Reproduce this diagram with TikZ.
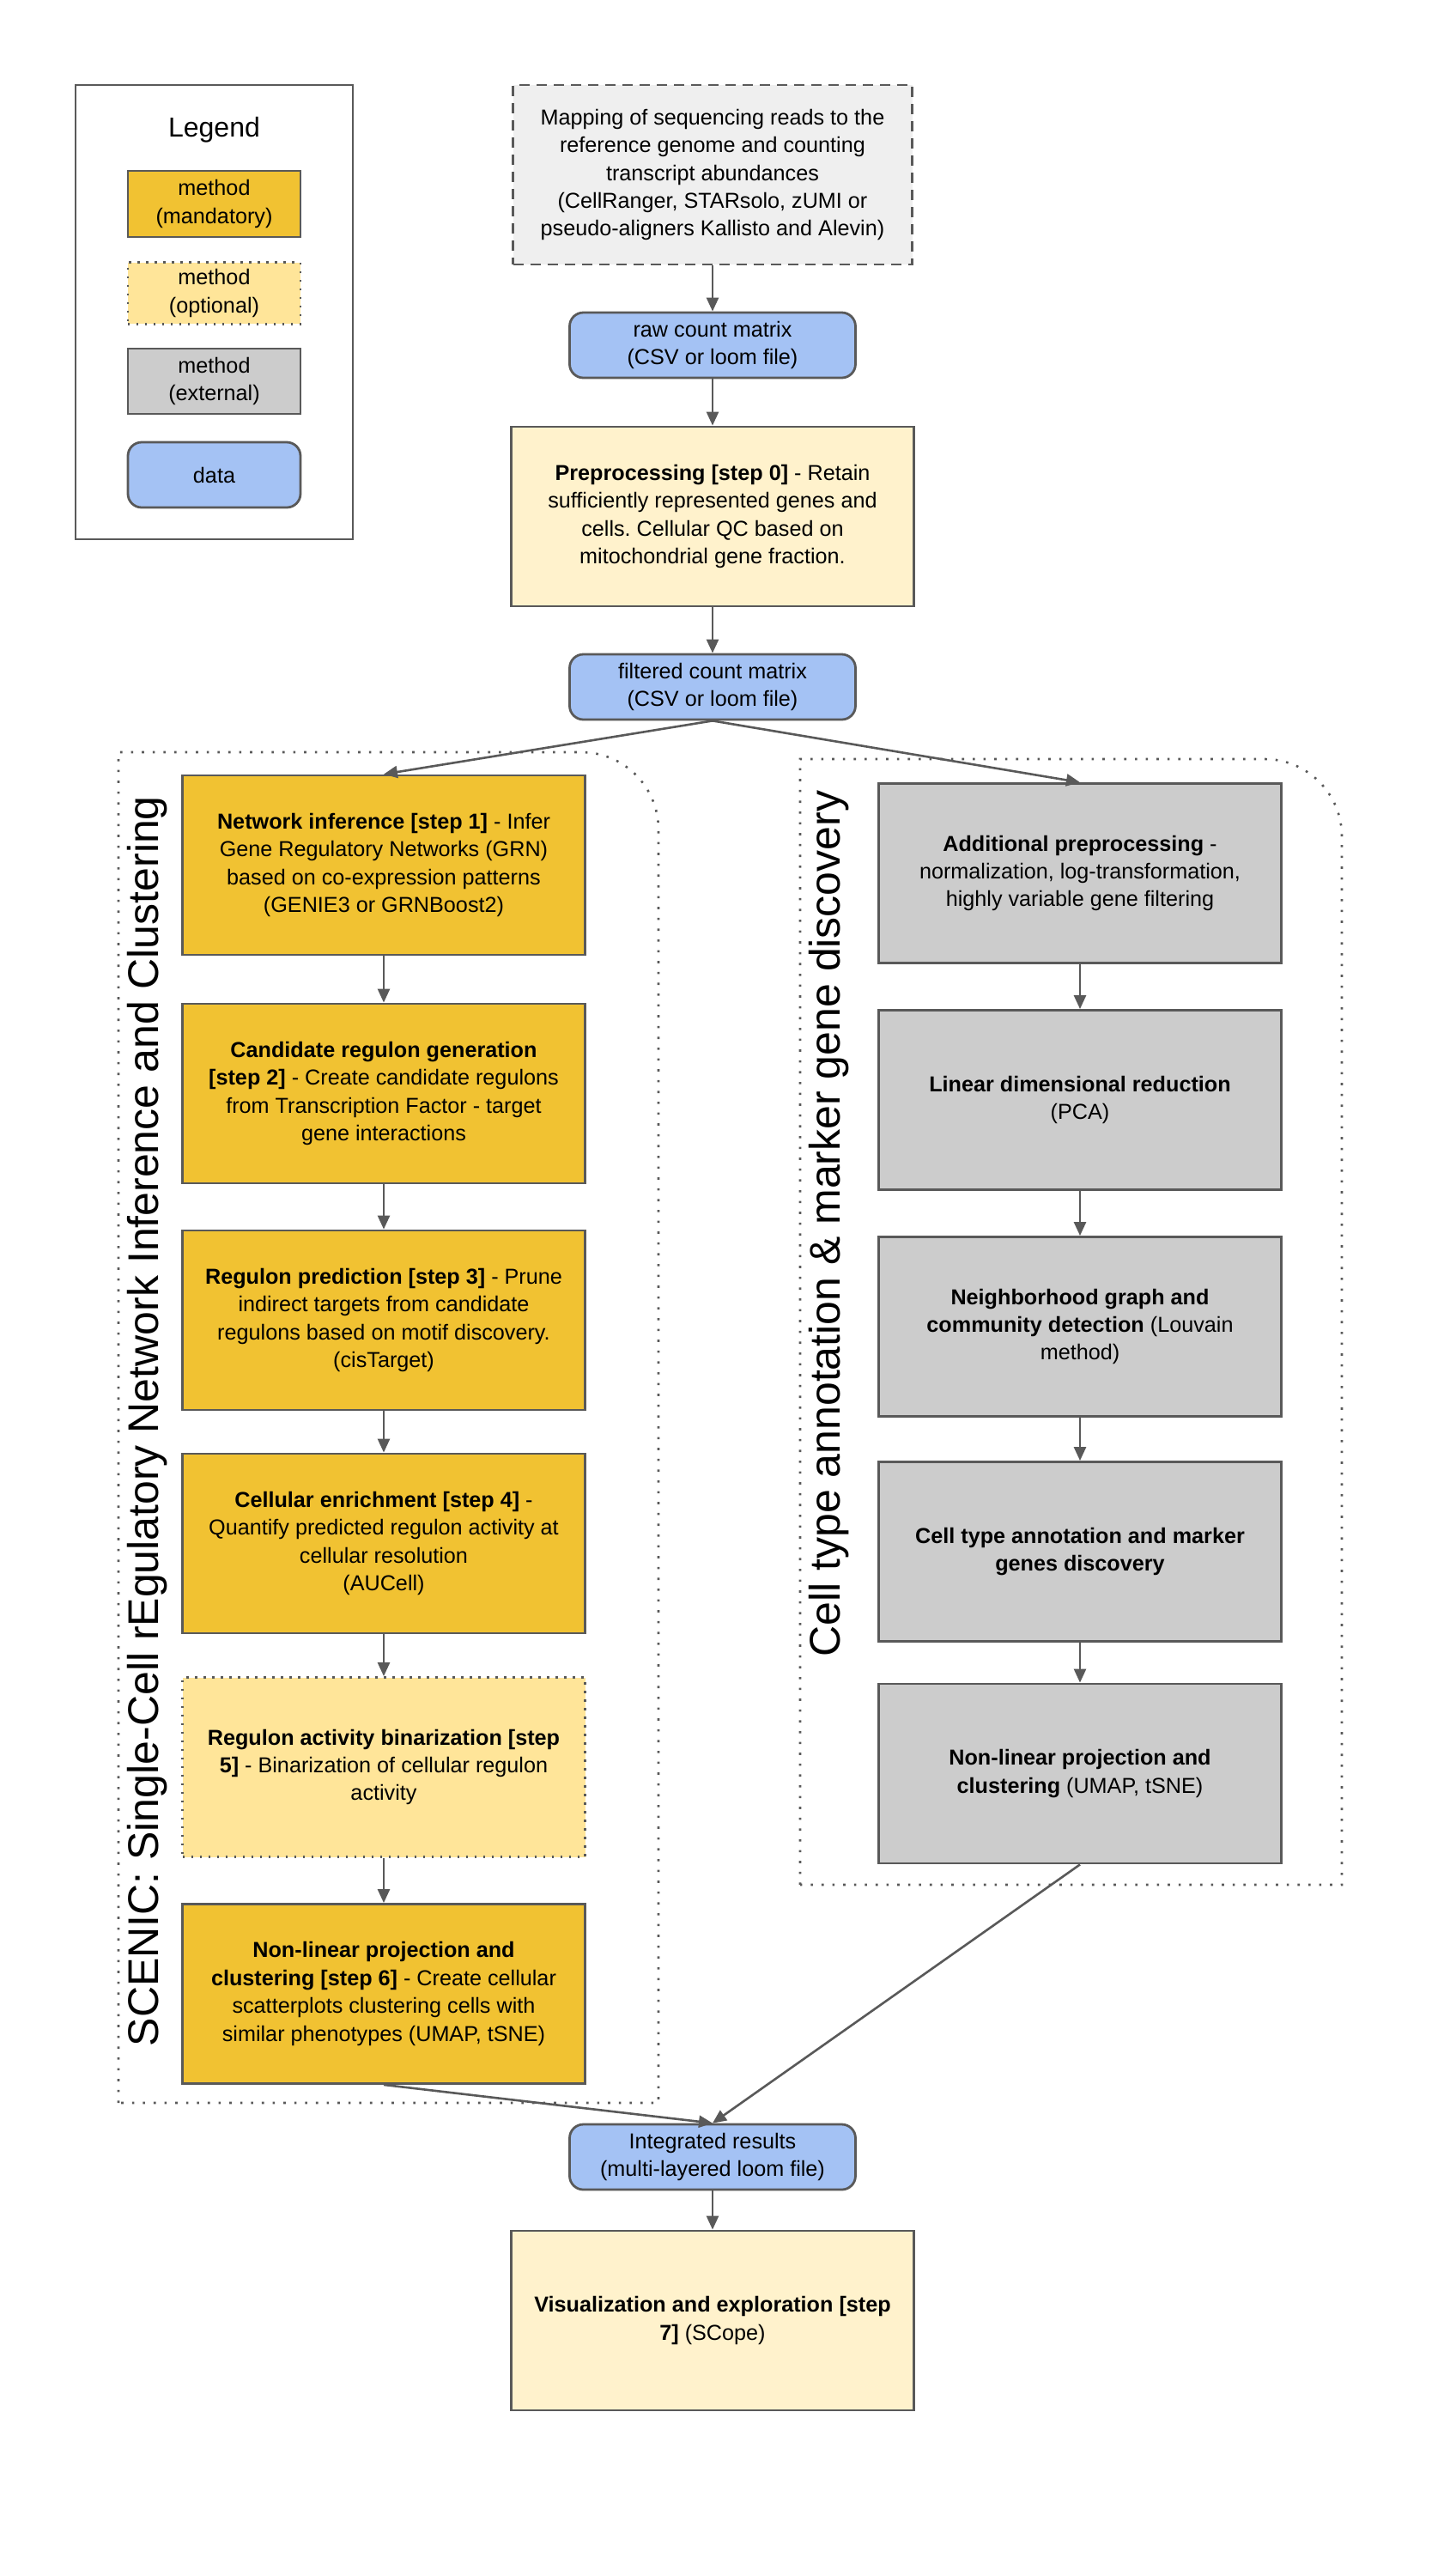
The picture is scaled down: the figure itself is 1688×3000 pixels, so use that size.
\documentclass[tikz,border=0pt]{standalone}
\usepackage{fontspec}
\setmainfont{Liberation Sans}
\usepackage{tikz}
\usetikzlibrary{arrows.meta}
\usetikzlibrary{positioning}
\definecolor{edgegray}{HTML}{595959}
\definecolor{mandfill}{HTML}{F1C232}
\definecolor{optfill}{HTML}{FFE599}
\definecolor{extfill}{HTML}{CCCCCC}
\definecolor{datfill}{HTML}{A4C2F4}
\definecolor{prepfill}{HTML}{FFF2CC}
\definecolor{mapfill}{HTML}{EFEFEF}
\frenchspacing
\newcommand{\bodyfont}{\fontsize{12.6}{16.2}\selectfont}
\tikzset{box/.style={draw=edgegray, line width=1.4pt, align=center, font=\bodyfont, inner sep=4pt}}

\begin{document}
\begin{tikzpicture}[x=0.5pt,y=-0.5pt]
\tikzstyle{mand} = [box, fill=mandfill, minimum width=234.5pt, minimum height=104.5pt]
\tikzstyle{optl} = [box, fill=optfill, dash pattern=on 1.2pt off 3.8pt, minimum width=234.5pt, minimum height=104.5pt]
\tikzstyle{extl} = [box, fill=extfill, minimum width=234.5pt, minimum height=104.5pt]
\tikzstyle{prep} = [box, fill=prepfill, minimum width=234.5pt, minimum height=104.5pt]
\tikzstyle{datnode} = [box, fill=datfill, rounded corners=8pt, minimum width=166.5pt, minimum height=38pt]
\tikzstyle{flow} = [draw=edgegray, line width=1.3pt, -{Triangle[length=8pt,width=7pt]}]
\tikzstyle{grp} = [draw=edgegray, line width=1.3pt, dash pattern=on 1.3pt off 5pt]
\useasboundingbox (0,0) rectangle (1688,3000);

% legend
\node[draw=edgegray, line width=1.3pt, minimum width=161.5pt, minimum height=264.5pt](legend) at (249.5, 363.5){};
\node[font=\fontsize{16}{19}\selectfont](legtitle) at (249.5, 151){Legend};
\node[mand, minimum width=100.5pt, minimum height=38.5pt](legmand) at (249.5, 237.5){method\\(mandatory)};
\node[optl, minimum width=100.5pt, minimum height=33pt](legopt) at (249.5, 341.5){method\\(optional)};
\node[extl, minimum width=100.5pt, minimum height=38pt](legext) at (249.5, 444){method\\(external)};
\node[datnode, minimum width=100.5pt, minimum height=38pt](legdat) at (249.5, 553){data};

% groups
\draw[grp] (138,2449) -- (138,876) -- (677,876) arc[start angle=-90, end angle=0, radius=90] -- (767,2449) -- cycle;
\draw[grp] (932,2195) -- (932,884) -- (1473,884) arc[start angle=-90, end angle=0, radius=90] -- (1563,2195) -- cycle;
\node[rotate=90, font=\fontsize{25}{30}\selectfont](scenic) at (172, 1655){SCENIC: Single-Cell rEgulatory Network Inference and Clustering};
\node[rotate=90, font=\fontsize{25}{30}\selectfont](celltype) at (966, 1425){Cell type annotation \& marker gene discovery};

% main column
\node[box, fill=mapfill, dash pattern=on 6pt off 4pt, minimum width=232.5pt, minimum height=104.5pt](mapping) at (830, 203.5){Mapping of sequencing reads to the\\reference genome and counting\\transcript abundances\\(CellRanger, STARsolo, zUMI or\\pseudo-aligners Kallisto and Alevin)};
\node[datnode](raw) at (830, 402){raw count matrix\\(CSV or loom file)};
\node[prep](prep) at (830, 601.5){\textbf{Preprocessing [step 0]} - Retain\\sufficiently represented genes and\\cells. Cellular QC based on\\mitochondrial gene fraction.};
\node[datnode](filtered) at (830, 800){filtered count matrix\\(CSV or loom file)};

% SCENIC column
\node[mand](grn) at (447, 1007.5){\textbf{Network inference [step 1]} - Infer\\Gene Regulatory Networks (GRN)\\based on co-expression patterns\\(GENIE3 or GRNBoost2)};
\node[mand](cand) at (447, 1273.5){\textbf{Candidate regulon generation}\\\textbf{[step 2]} - Create candidate regulons\\from Transcription Factor - target\\gene interactions};
\node[mand](prune) at (447, 1537.5){\textbf{Regulon prediction [step 3]} - Prune\\indirect targets from candidate\\regulons based on motif discovery.\\(cisTarget)};
\node[mand](aucell) at (447, 1797.5){\textbf{Cellular enrichment [step 4]} -\\Quantify predicted regulon activity at\\cellular resolution\\(AUCell)};
\node[optl](binar) at (447, 2058){\textbf{Regulon activity binarization [step}\\\textbf{5]} - Binarization of cellular regulon\\activity};
\node[mand](projl) at (447, 2322){\textbf{Non-linear projection and}\\\textbf{clustering [step 6]} - Create cellular\\scatterplots clustering cells with\\similar phenotypes (UMAP, tSNE)};

% external column
\node[extl](addprep) at (1258, 1017){\textbf{Additional preprocessing} -\\normalization, log-transformation,\\highly variable gene filtering};
\node[extl](pca) at (1258, 1281){\textbf{Linear dimensional reduction}\\(PCA)};
\node[extl](louvain) at (1258, 1545){\textbf{Neighborhood graph and}\\\textbf{community detection} (Louvain\\method)};
\node[extl](annot) at (1258, 1807){\textbf{Cell type annotation and marker}\\\textbf{genes discovery}};
\node[extl](projr) at (1258, 2065.5){\textbf{Non-linear projection and}\\\textbf{clustering} (UMAP, tSNE)};

% results
\node[datnode](integ) at (830, 2512){Integrated results\\(multi-layered loom file)};
\node[prep](scope) at (830, 2702.5){\textbf{Visualization and exploration [step}\\\textbf{7]} (SCope)};

% arrows
\draw[flow] (mapping) -- (raw);
\draw[flow] (raw) -- (prep);
\draw[flow] (prep) -- (filtered);
\draw[flow] (filtered.south) -- (grn.north);
\draw[flow] (filtered.south) -- (addprep.north);
\draw[flow] (grn) -- (cand);
\draw[flow] (cand) -- (prune);
\draw[flow] (prune) -- (aucell);
\draw[flow] (aucell) -- (binar);
\draw[flow] (binar) -- (projl);
\draw[flow] (addprep) -- (pca);
\draw[flow] (pca) -- (louvain);
\draw[flow] (louvain) -- (annot);
\draw[flow] (annot) -- (projr);
\draw[flow] (projl.south) -- (integ.north);
\draw[flow] (projr.south) -- (integ.north);
\draw[flow] (integ) -- (scope);

\end{tikzpicture}
\end{document}
